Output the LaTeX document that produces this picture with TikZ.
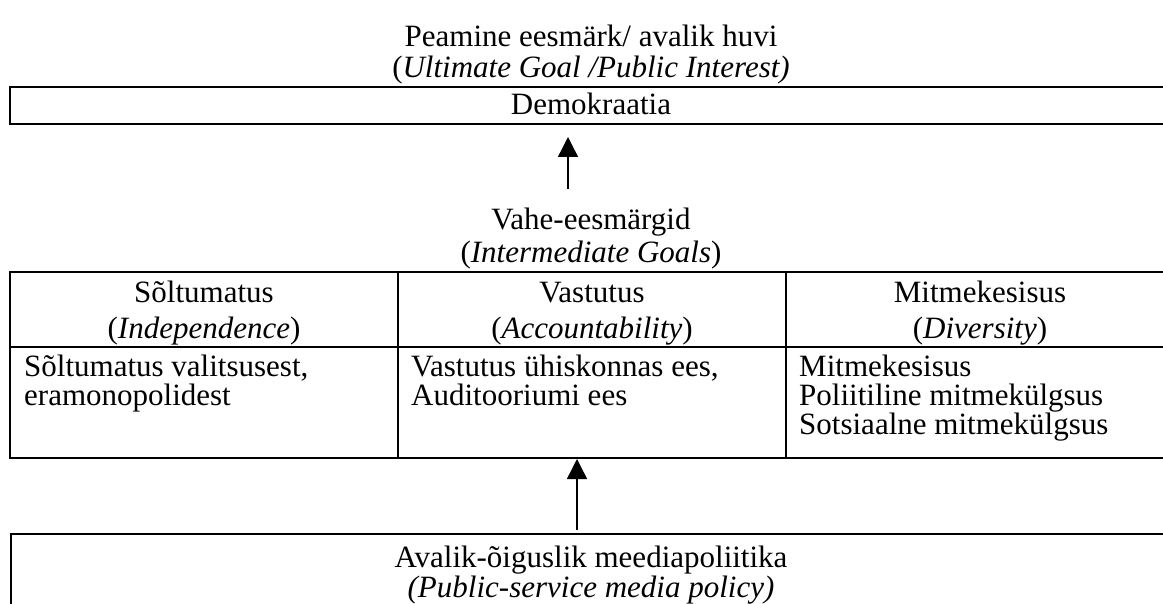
\documentclass[tikz,border=0pt]{standalone}
\usepackage{fontspec}
\setmainfont{Liberation Serif}
\usetikzlibrary{arrows.meta}
\begin{document}
\begin{tikzpicture}[x=1pt,y=-1pt,
  frame/.style={line width=1.8pt},
  txt/.style={anchor=base,inner sep=0pt,font=\fontsize{31}{35}\selectfont},
  cell/.style={anchor=base west,inner sep=0pt,font=\fontsize{31}{35}\selectfont},
  up/.style={line width=1.4pt,-{Triangle[width=20pt,length=20pt]}}]
\clip (0,0) rectangle (1163,604);

% top level: ultimate goal
\node[txt] (goal1) at (591,47) {Peamine eesmärk/ avalik huvi};
\node[txt] (goal2) at (591,78) {(\textit{Ultimate Goal /Public Interest)}};
\draw[frame] (10,87) rectangle (1175,124);
\node[txt] (demo) at (591,115) {Demokraatia};

% arrow up to the goal
\coordinate (a1s) at (568,189);
\coordinate (a1e) at (568,137);
\draw[up] (a1s) -- (a1e);

% intermediate goals table
\node[txt] (mid1) at (591,230) {Vahe-eesmärgid};
\node[txt] (mid2) at (591,263) {(\textit{Intermediate Goals})};
\draw[frame] (10,272) rectangle (1175,458);
\draw[frame] (10,347) -- (1175,347);
\draw[frame] (398,272) -- (398,458);
\draw[frame] (786,272) -- (786,458);

\node[txt] (h1a) at (204,303) {Sõltumatus};
\node[txt] (h1b) at (204,338) {(\textit{Independence})};
\node[txt] (h2a) at (592,303) {Vastutus};
\node[txt] (h2b) at (592,338) {(\textit{Accountability})};
\node[txt] (h3a) at (980,303) {Mitmekesisus};
\node[txt] (h3b) at (980,338) {(\textit{Diversity})};

\node[cell] (c1a) at (24,376) {Sõltumatus valitsusest,};
\node[cell] (c1b) at (24,405) {eramonopolidest};
\node[cell] (c2a) at (411,376) {Vastutus ühiskonnas ees,};
\node[cell] (c2b) at (411,405) {Auditooriumi ees};
\node[cell] (c3a) at (799,376) {Mitmekesisus};
\node[cell] (c3b) at (799,405) {Poliitiline mitmekülgsus};
\node[cell] (c3c) at (799,434) {Sotsiaalne mitmekülgsus};

% arrow up from policy
\coordinate (a2s) at (577,530);
\coordinate (a2e) at (577,459);
\draw[up] (a2s) -- (a2e);

% bottom: media policy
\draw[frame] (11,620) -- (11,534) -- (1175,534);
\node[txt] (pol1) at (591,567) {Avalik-õiguslik meediapoliitika};
\node[txt] (pol2) at (591,597) {\textit{(Public-service media policy)}};
\end{tikzpicture}
\end{document}
